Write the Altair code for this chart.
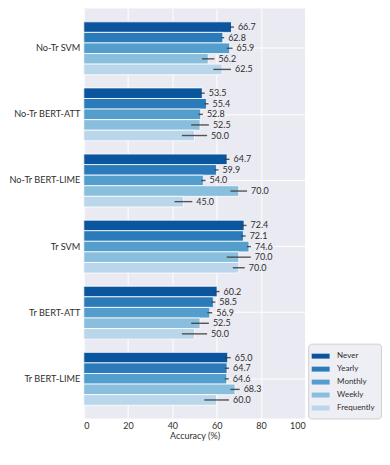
import altair as alt
import pandas as pd

models = ["No-Tr SVM", "No-Tr BERT-ATT", "No-Tr BERT-LIME", "Tr SVM", "Tr BERT-ATT", "Tr BERT-LIME"]
freqs = ["Never", "Yearly", "Monthly", "Weekly", "Frequently"]
colors = ["#0b559f", "#2b7bba", "#539ecd", "#89bedc", "#bad6eb"]

never = [66.7, 53.5, 64.7, 72.4, 60.2, 65.0]
yearly = [62.8, 55.4, 59.9, 72.1, 58.5, 64.7]
monthly = [65.9, 52.8, 54.0, 74.6, 56.9, 64.6]
weekly = [56.2, 52.5, 70.0, 70.0, 52.5, 68.3]
frequently = [62.5, 50.0, 45.0, 70.0, 50.0, 60.0]

err_never = [1.1, 1.1, 1.1, 1.1, 1.1, 1.35]
err_yearly = [0.6, 0.9, 0.9, 1.0, 0.9, 0.9]
err_monthly = [1.3, 1.0, 1.0, 0.9, 1.1, 0.9]
err_weekly = [2.8, 4.0, 3.75, 5.4, 4.0, 2.1]
err_frequently = [4.0, 5.7, 4.0, 2.7, 5.7, 5.6]

vals = [never, yearly, monthly, weekly, frequently]
errs = [err_never, err_yearly, err_monthly, err_weekly, err_frequently]

rows = []
for fi, f in enumerate(freqs):
    for mi, m in enumerate(models):
        v = vals[fi][mi]
        e = errs[fi][mi]
        rows.append({"model": m, "freq": f, "value": v, "lo": v - e, "hi": v + e,
                     "label": f"{v:.1f}"})
df = pd.DataFrame(rows)

font = "Lato"

base = alt.Chart(df).encode(
    y=alt.Y("model:N", sort=models, title=None,
            scale=alt.Scale(paddingInner=0.2, paddingOuter=0.2),
            axis=alt.Axis(ticks=False, domain=False, labelPadding=4, labelFontSize=9.2,
                          labelColor="#2e2e2e", grid=True, bandPosition=0.5, labelFont=font,
                          labelFontWeight="normal")),
    yOffset=alt.YOffset("freq:N", sort=freqs, scale=alt.Scale(paddingInner=0, paddingOuter=0)),
)

bars = base.mark_bar(stroke="white", strokeWidth=0.8).encode(
    x=alt.X("value:Q", title="Accuracy (%)",
            scale=alt.Scale(domain=[0, 100], nice=False),
            axis=alt.Axis(values=[0, 20, 40, 60, 80, 100], ticks=False, domain=False,
                          labelPadding=3, labelFontSize=9, titleFontSize=9, titlePadding=1,
                          labelColor="#2e2e2e", titleColor="#2e2e2e", titleFontWeight="normal",
                          labelFont=font, titleFont=font)),
    color=alt.Color("freq:N", sort=freqs, scale=alt.Scale(domain=freqs, range=colors),
                    legend=alt.Legend(title=None, orient="none", legendX=225, legendY=336,
                                      symbolType="M-1.38,-0.38L1.38,-0.38L1.38,0.38L-1.38,0.38Z",
                                      symbolSize=169, symbolStrokeWidth=0, symbolOpacity=1,
                                      labelFontSize=8, labelColor="#2e2e2e", labelFont=font,
                                      rowPadding=2, padding=6, fillColor="#eeeef5",
                                      strokeColor="#cfcfcf", cornerRadius=3,
                                      labelOffset=10)),
)

rules = base.mark_rule(color="#3a3a3a", strokeWidth=1.4, opacity=0.85).encode(
    x="lo:Q", x2="hi:Q",
)

texts = base.mark_text(align="left", baseline="middle", dx=4, fontSize=9,
                       color="#2e2e2e", font=font).encode(
    x="hi:Q", text="label:N",
)

chart = alt.layer(bars, rules, texts).properties(
    width=222, height=411,
    padding={"left": 0, "top": 0, "right": 0, "bottom": 0},
).configure_view(fill="#eaeaf2", stroke=None).configure_axis(
    gridColor="white", gridWidth=1, gridOpacity=1
)

chart.save("out.html", embed_options={"renderer": "svg", "actions": False})
